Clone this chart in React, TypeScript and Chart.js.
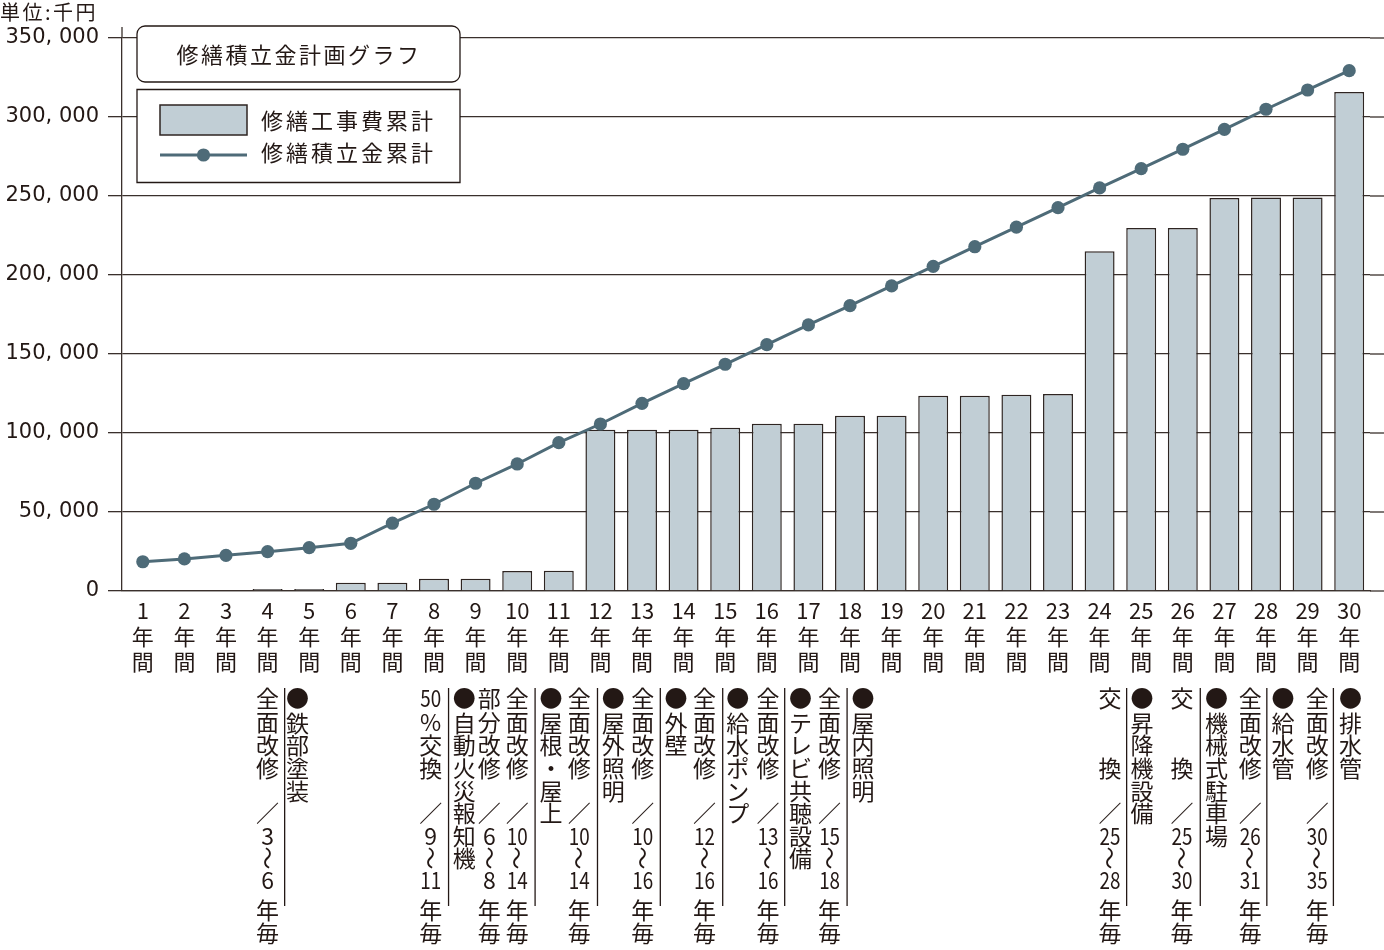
import { useEffect, useRef } from 'react';
import { Chart, registerables } from 'chart.js';
import type { Plugin } from 'chart.js';

Chart.register(...registerables);

const FONT = '"Noto Sans CJK JP", "Noto Sans", sans-serif';
const NUM_FONT = '"DejaVu Sans", "Noto Sans", sans-serif';
const INK = '#231815';
const RULE = '#3a302c';
const BAR_FILL = '#c1ced5';
const BAR_EDGE = '#2e2522';
const LINE_COLOR = '#4e6b78';

const chartTitle = '修繕積立金計画グラフ';
const unitLabel = '単位:千円';
const seriesLabels = ['修繕工事費累計', '修繕積立金累計'];

const years = [
  '1年間', '2年間', '3年間', '4年間', '5年間', '6年間', '7年間', '8年間', '9年間', '10年間',
  '11年間', '12年間', '13年間', '14年間', '15年間', '16年間', '17年間', '18年間', '19年間', '20年間',
  '21年間', '22年間', '23年間', '24年間', '25年間', '26年間', '27年間', '28年間', '29年間', '30年間',
];

// 修繕工事費累計 (千円)
const repairCostTotal = [
  0, 0, 0, 1300, 1300, 5200, 5200, 7800, 7800, 12700,
  12800, 102100, 102100, 102100, 103400, 105900, 105900, 110900, 110900, 123600,
  123600, 124200, 124700, 215000, 229700, 229700, 248700, 249100, 249000, 315800,
];

// 修繕積立金累計 (千円)
const reserveTotal = [
  18500, 20300, 22600, 24900, 27400, 30200, 42900, 54900, 68200, 80400,
  93900, 105700, 118800, 131200, 143500, 155900, 168400, 180600, 193100, 205500,
  217900, 230300, 242600, 255100, 267300, 279600, 292200, 304900, 317100, 329300,
];

const yTicks = [0, 50000, 100000, 150000, 200000, 250000, 300000, 350000];

// notes under the axis, placed in category units (1 = centre of "1年間")
const cycleNotes = [
  { at: 4.0, text: '全面改修／3～6年毎' },
  { at: 7.92, text: '50%交換／9～11年毎' },
  { at: 9.33, text: '部分改修／6～8年毎' },
  { at: 10.0, text: '全面改修／10～14年毎' },
  { at: 11.49, text: '全面改修／10～14年毎' },
  { at: 13.02, text: '全面改修／10～16年毎' },
  { at: 14.5, text: '全面改修／12～16年毎' },
  { at: 16.03, text: '全面改修／13～16年毎' },
  { at: 17.51, text: '全面改修／15～18年毎' },
  { at: 24.25, text: '交　　換／25～28年毎' },
  { at: 25.98, text: '交　　換／25～30年毎' },
  { at: 27.62, text: '全面改修／26～31年毎' },
  { at: 29.23, text: '全面改修／30～35年毎' },
];

const itemNotes = [
  { at: 4.72, text: '●鉄部塗装' },
  { at: 8.73, text: '●自動火災報知機' },
  { at: 10.81, text: '●屋根・屋上' },
  { at: 12.31, text: '●屋外照明' },
  { at: 13.82, text: '●外壁' },
  { at: 15.3, text: '●給水ポンプ' },
  { at: 16.81, text: '●テレビ共聴設備' },
  { at: 18.31, text: '●屋内照明' },
  { at: 25.02, text: '●昇降機設備' },
  { at: 26.81, text: '●機械式駐車場' },
  { at: 28.41, text: '●給水管' },
  { at: 30.03, text: '●排水管' },
];

const dividers = [4.41, 8.35, 10.43, 11.93, 13.44, 14.94, 16.43, 17.93, 24.65, 26.42, 28.02, 29.62];

// vertical slots (px below the axis) for a "work／cycle" column
const cycleSlots = [107, 131, 154, 177, 222, 245, 267, 289, 319, 342];

function formatYen(v: number) {
  if (v === 0) return '0';
  return v.toLocaleString('en-US').replace(',', ', ');
}

function tokens(text: string) {
  return text.match(/\d+|./gu) || [];
}

function drawGlyph(ctx: CanvasRenderingContext2D, tok: string, x: number, y: number) {
  if (tok === '～') {
    ctx.save();
    ctx.translate(x, y);
    ctx.rotate(Math.PI / 2);
    ctx.fillText(tok, 0, 0);
    ctx.restore();
    return;
  }
  if (/^\d{2,}$/.test(tok)) {
    ctx.save();
    ctx.translate(x, y);
    ctx.scale(0.82, 1);
    ctx.fillText(tok, 0, 0);
    ctx.restore();
    return;
  }
  ctx.fillText(tok, x, y);
}

const decorations: Plugin<'bar'> = {
  id: 'decorations',
  beforeDatasetsDraw(chart) {
    const { ctx, chartArea, width } = chart;
    const yScale = chart.scales.y;
    ctx.save();
    ctx.strokeStyle = RULE;
    ctx.lineWidth = 1.3;
    // grid lines run on to the right edge
    for (const v of yTicks) {
      const y = yScale.getPixelForValue(v);
      ctx.beginPath();
      ctx.moveTo(chartArea.right, y);
      ctx.lineTo(width, y);
      ctx.stroke();
    }
    // axis line pokes above the top tick
    ctx.beginPath();
    ctx.moveTo(chartArea.left, chartArea.top);
    ctx.lineTo(chartArea.left, chartArea.top - 11);
    ctx.stroke();
    ctx.restore();
  },
  afterDraw(chart) {
    const { ctx, chartArea } = chart;
    const xScale = chart.scales.x;
    const x0 = xScale.getPixelForValue(0);
    const step = xScale.getPixelForValue(1) - x0;
    const px = (at: number) => x0 + (at - 1) * step;
    const base = chartArea.bottom;

    ctx.save();
    ctx.fillStyle = INK;
    ctx.strokeStyle = INK;

    // unit
    ctx.font = `20px ${FONT}`;
    ctx.textAlign = 'left';
    ctx.textBaseline = 'middle';
    ctx.letterSpacing = '2.5px';
    ctx.fillText(unitLabel, 0, 12);

    // title box
    ctx.lineWidth = 1.3;
    ctx.fillStyle = '#ffffff';
    ctx.beginPath();
    ctx.roundRect(137, 26, 323, 56, 8);
    ctx.fill();
    ctx.stroke();
    ctx.fillStyle = INK;
    ctx.font = `22px ${FONT}`;
    ctx.letterSpacing = '2.5px';
    ctx.textAlign = 'center';
    ctx.fillText(chartTitle, 299, 55);

    // legend box
    ctx.fillStyle = '#ffffff';
    ctx.beginPath();
    ctx.rect(137, 89.5, 323, 93);
    ctx.fill();
    ctx.stroke();

    const [barSet, lineSet] = chart.data.datasets;
    ctx.fillStyle = BAR_FILL;
    ctx.strokeStyle = BAR_EDGE;
    ctx.lineWidth = 1.5;
    ctx.fillRect(160, 105, 87, 30);
    ctx.strokeRect(160, 105, 87, 30);

    ctx.strokeStyle = LINE_COLOR;
    ctx.lineWidth = 3;
    ctx.beginPath();
    ctx.moveTo(160, 155);
    ctx.lineTo(247, 155);
    ctx.stroke();
    ctx.fillStyle = LINE_COLOR;
    ctx.beginPath();
    ctx.arc(203.5, 155, 6.6, 0, Math.PI * 2);
    ctx.fill();

    ctx.fillStyle = INK;
    ctx.textAlign = 'left';
    ctx.letterSpacing = '3px';
    ctx.fillText(String(barSet.label), 261, 121);
    ctx.fillText(String(lineSet.label), 261, 153);

    // notes under the axis
    ctx.letterSpacing = '0px';
    ctx.font = `23px ${FONT}`;
    ctx.textAlign = 'center';
    ctx.textBaseline = 'middle';
    for (const note of cycleNotes) {
      const x = px(note.at);
      tokens(note.text).forEach((tok, i) => drawGlyph(ctx, tok, x, base + cycleSlots[i]));
    }
    for (const note of itemNotes) {
      const x = px(note.at);
      tokens(note.text).forEach((tok, i) => {
        const y = i === 0 ? base + 107 : base + 132 + (i - 1) * 22.6;
        drawGlyph(ctx, tok, x, y);
      });
    }
    ctx.strokeStyle = INK;
    ctx.lineWidth = 1.3;
    for (const at of dividers) {
      const x = px(at);
      ctx.beginPath();
      ctx.moveTo(x, base + 97);
      ctx.lineTo(x, base + 315);
      ctx.stroke();
    }
    ctx.restore();
  },
};

export default function App() {
  const canvasRef = useRef<HTMLCanvasElement>(null);

  useEffect(() => {
    const canvas = canvasRef.current;
    if (!canvas) return;

    const chart = new Chart(canvas, {
      type: 'bar',
      data: {
        labels: years,
        datasets: [
          {
            type: 'bar',
            label: seriesLabels[0],
            data: repairCostTotal,
            backgroundColor: BAR_FILL,
            borderColor: BAR_EDGE,
            borderWidth: 1.5,
            barPercentage: 0.72,
            categoryPercentage: 1,
            order: 1,
          },
          {
            type: 'line',
            label: seriesLabels[1],
            data: reserveTotal,
            borderColor: LINE_COLOR,
            borderWidth: 3,
            backgroundColor: LINE_COLOR,
            pointBackgroundColor: LINE_COLOR,
            pointBorderWidth: 0,
            pointRadius: 6.6,
            pointHoverRadius: 6.6,
            tension: 0,
            order: 0,
          } as any,
        ],
      },
      options: {
        animation: false,
        responsive: true,
        maintainAspectRatio: false,
        events: [],
        layout: { padding: { top: 38, right: 14, left: 0, bottom: 0 } },
        plugins: {
          legend: { display: false },
          tooltip: { enabled: false },
        },
        scales: {
          x: {
            afterFit(scale) {
              scale.height = 359;
            },
            grid: { display: false, drawTicks: false },
            border: { display: true, color: RULE, width: 1.3 },
            ticks: {
              autoSkip: false,
              maxRotation: 0,
              padding: 7,
              color: INK,
              font: { family: FONT, size: 22, lineHeight: 1.16 },
              callback(_value, index) {
                const m = years[index].match(/^(\d+)(.*)$/);
                if (!m) return years[index];
                return [m[1], ...Array.from(m[2])];
              },
            },
          },
          y: {
            min: 0,
            max: 350000,
            afterFit(scale) {
              scale.width = 122;
            },
            afterBuildTicks(scale) {
              scale.ticks = yTicks.map((value) => ({ value }));
            },
            grid: { color: RULE, lineWidth: 1.3, tickLength: 14, tickColor: RULE },
            border: { display: true, color: RULE, width: 1.3 },
            ticks: {
              padding: 9,
              color: INK,
              font: { family: NUM_FONT, size: 21 },
              callback(value) {
                return formatYen(Number(value));
              },
            },
          },
        },
      },
      plugins: [decorations],
    });

    return () => chart.destroy();
  }, []);

  return (
    <div style={{ position: 'absolute', left: 0, top: 0, width: 1384, height: 950, background: '#ffffff' }}>
      <canvas ref={canvasRef} />
    </div>
  );
}
